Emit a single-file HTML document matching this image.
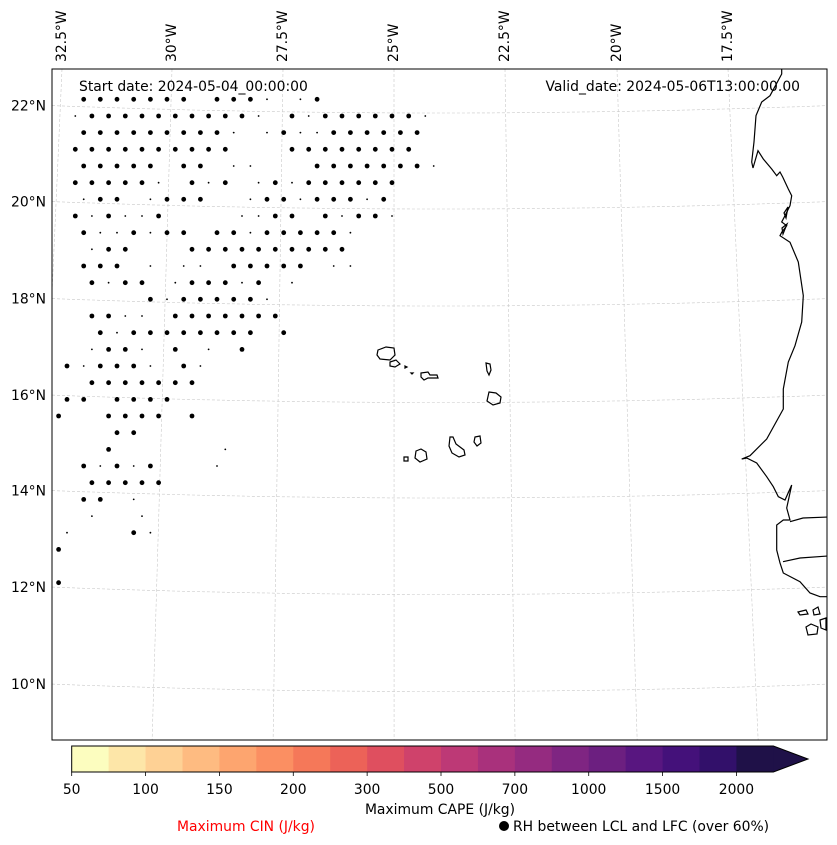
<!DOCTYPE html>
<html><head><meta charset="utf-8"><style>
html,body{margin:0;padding:0;background:#fff;}
svg{display:block;font-family:"DejaVu Sans","Liberation Sans",sans-serif;}
</style></head><body>
<svg id="chart" width="837" height="845" viewBox="0 0 837 845" xmlns="http://www.w3.org/2000/svg">
<rect width="837" height="845" fill="#fff"/>
<defs><clipPath id="mapclip"><rect x="52" y="69" width="775" height="671"/></clipPath></defs>
<g id="grid" clip-path="url(#mapclip)"></g>
<g id="coast" clip-path="url(#mapclip)" fill="none" stroke="#000" stroke-width="1.2">
<path d="M781.7,69 L781.7,74 L770,95.7 L761.7,102 L756,115.7 L754,142 L751.7,162 L753,168 L758,150.7 L763.3,159 L771.7,169 L776.7,175.7 L780,172 L782.7,177 L788.3,189 L791.7,195.7 L790,205.7 L785,215.7 L781.7,222 L786.7,225.7 L781.7,232.3 L780,235.7 L790,242.3 L798.3,262 L803.3,295.7 L801.7,322 L795,345.7 L788.3,362 L783.3,389 L783.3,409 L766.7,439 L750,455.7 L741.7,459 L746.7,458 L756.7,463 L766.7,476.7 L773.3,486.7 L778.3,496.7 L785,500 L791.7,485 L786.7,508 L790,520 L783.3,520 L776.7,525 L776.7,550 L780,563 L783.3,573 L800,581.7 L810,593 L820,596.7 L828,596.7"/>
<path d="M790,521.7 L803,518 L828,517"/>
<path d="M783,561.7 L800,558 L828,556"/>
<path d="M784,213 L788,207 L786,218 Z M782,228 L787,224 L783,234 Z"/>
<path d="M798,612 L806,610 L808,614 L800,615 Z M813,610 L818,607 L820,614 L814,615 Z M806,627 L811,624 L818,627 L817,634 L808,635 Z M820,620 L826,618 L826,630 L821,628 Z"/>
<path d="M378,350 L386,347 L394,348 L395,355 L390,360 L380,359 L377,355 Z"/>
<path d="M390,362 L396,360 L400,364 L395,367 L390,366 Z"/>
<path d="M405,366 L407,367 L405,368 Z M411,373 L413,373 L412,374 Z"/>
<path d="M421,373 L428,372 L430,375 L437,375 L438,378 L428,378 L424,380 L421,377 Z"/>
<path d="M486,363 L490,364 L491,370 L489,375 L487,371 Z"/>
<path d="M489,392 L496,393 L501,397 L500,403 L493,405 L487,401 Z"/>
<path d="M475,437 L480,436 L481,443 L477,446 L474,442 Z"/>
<path d="M450,437 L453,437 L456,444 L464,450 L465,455 L459,457 L452,453 L449,446 Z"/>
<path d="M416,451 L421,449 L426,452 L427,459 L420,462 L415,458 Z"/>
<path d="M404,457 L408,457 L408,461 L404,461 Z"/>
</g>
<g id="dots" clip-path="url(#mapclip)"></g>
<rect x="52" y="69" width="775" height="671" fill="none" stroke="#000" stroke-width="1"/>
<text x="79" y="91" font-size="13.9">Start date: 2024-05-04_00:00:00</text>
<text x="800" y="91" font-size="13.9" text-anchor="end">Valid_date: 2024-05-06T13:00:00.00</text>
<g id="labels" font-size="13.9"></g>
<g id="cbar"></g>
<text x="440" y="814" font-size="13.9" text-anchor="middle">Maximum CAPE (J/kg)</text>
<text x="246" y="831" font-size="13.9" text-anchor="middle" fill="#ff0000">Maximum CIN (J/kg)</text>
<circle cx="504" cy="826" r="5" fill="#000"/>
<text x="513" y="831" font-size="13.9">RH between LCL and LFC (over 60%)</text>
</svg>
<script>
// ----- data -----
const lonLabels = ["32.5°W","30°W","27.5°W","25°W","22.5°W","20°W","17.5°W"];
const lonTopX = [62,172,283,394,505,617,728];
const latLabels = ["22°N","20°N","18°N","16°N","14°N","12°N","10°N"];
const latLeftY = [105.5,201.5,298.5,395,490.5,587,684];
const cbLevels = ["50","75","100","125","150","175","200","250","300","400","500","600","700","800","1000","1250","1500","1750","2000"];
const cbTickLabels = ["50","100","150","200","300","500","700","1000","1500","2000"];
const cbColors = ["#fcfdbf","#fde6a8","#fed195","#febb81","#fda56f","#fb8f62","#f57859","#ec6258","#df4f5f","#cf426b","#bd3976","#a9317c","#952b80","#7f2582","#6c1f80","#581680","#44117a","#32106a","#1f1148"];
// RH dot grid rows: 'o' = dot, '.' = small fragment, ' ' = none
const dotRows = [
" ooooooo ooo. .o",
" .oooooooooo. o.oooooo.",
" ooooooooo. .o..oooooo",
" oooooooooo   oooooooo",
" ooooo oo ..   ooooooo.",
" ooooo. o.o .o.oooooo",
" .oo .ooo  .oo.ooo.o",
" o.o..o    ..oo o.oo.",
" o..o.oo oo.ooooo.",
"  .oo   oooooooooo",
" ooo . .. ooooo ..",
"  o.oo .ooo.o .",
"     o.ooooo.",
"  oo.. ooooooo",
"  o.oooooooo o",
"  .oo. o . o",
"o.ooo. o.",
"  ooooooo",
"oo oooo",
"o  oooo o",
"   oo",
"   o      .",
" o.o.o   .",
"  ooooo",
" oo .",
"  .  .",
".   o.",
"o",
"",
"o"
];
// ----- geometry helpers -----
const NS="http://www.w3.org/2000/svg";
function el(tag,attrs,parent){const e=document.createElementNS(NS,tag);for(const k in attrs)e.setAttribute(k,attrs[k]);parent.appendChild(e);return e;}
const rowY = r => 99.3 + 16.67*r;
const colX = (r,j) => (r%2===0 ? 67.0 : 58.6) + 16.67*j;
const latSag = x => 7.5*(1-Math.pow((x-440)/390,2));
const cbX = i => 71.7 + i*36.93;

// graticule
const grid=document.getElementById('grid');
lonTopX.forEach((xt,i)=>{
  const xb = 393 + (xt-393)*1.09;
  const p=el('line',{x1:xt,y1:69,x2:xb,y2:740,stroke:'#c8c8c8','stroke-width':0.6,'stroke-dasharray':'3,2'},grid);
  
  
});
latLeftY.forEach((y0,i)=>{
  let d='';
  for(let x=52;x<=828;x+=8){d+=(x===52?'M':'L')+x+','+(y0+latSag(x)).toFixed(1)+' ';}
  const p=el('path',{d:d,fill:'none',stroke:'#c8c8c8','stroke-width':0.6,'stroke-dasharray':'3,2'},grid);
  
  
});

// dots
const dots=document.getElementById('dots');
dotRows.forEach((row,r)=>{
  for(let j=0;j<row.length;j++){
    const c=row[j]; if(c===' ')continue;
    const d=el('circle',{cx:colX(r,j).toFixed(1),cy:rowY(r).toFixed(1),r:c==='o'?2.4:0.9,fill:'#000'},dots);
    
    
  }
});

// axis labels
const labels=document.getElementById('labels');
lonLabels.forEach((t,i)=>{
  const x=lonTopX[i]+4;
  const e=el('text',{x:0,y:0,transform:`translate(${x},62) rotate(-90)`},labels);
  e.textContent=t;
  
  
});
latLabels.forEach((t,i)=>{
  const e=el('text',{x:46,y:latLeftY[i]+5,'text-anchor':'end'},labels);
  e.textContent=t;
  
  
});

// colorbar
const cb=document.getElementById('cbar');
cbColors.forEach((c,i)=>{
  const r=el('rect',{x:cbX(i).toFixed(2),y:746,width:37.5,height:26,fill:c},cb);
  
  
});
const tip=el('path',{d:`M${cbX(19)},746 L808,759 L${cbX(19)},772 Z`,fill:cbColors[cbColors.length-1]},cb);


const outline=el('path',{d:`M71.7,746 L${cbX(19)},746 L808,759 L${cbX(19)},772 L71.7,772 Z`,fill:'none',stroke:'#000','stroke-width':1},cb);


cbTickLabels.forEach((t,k)=>{
  const x=cbX(cbLevels.indexOf(t));
  const tk=el('line',{x1:x,y1:772,x2:x,y2:776,stroke:'#000','stroke-width':0.8},cb);
  
  
  const tx=el('text',{x:x,y:794,'font-size':13.9,'text-anchor':'middle'},cb);
  tx.textContent=t;
  
  
});
</script>
</body></html>
